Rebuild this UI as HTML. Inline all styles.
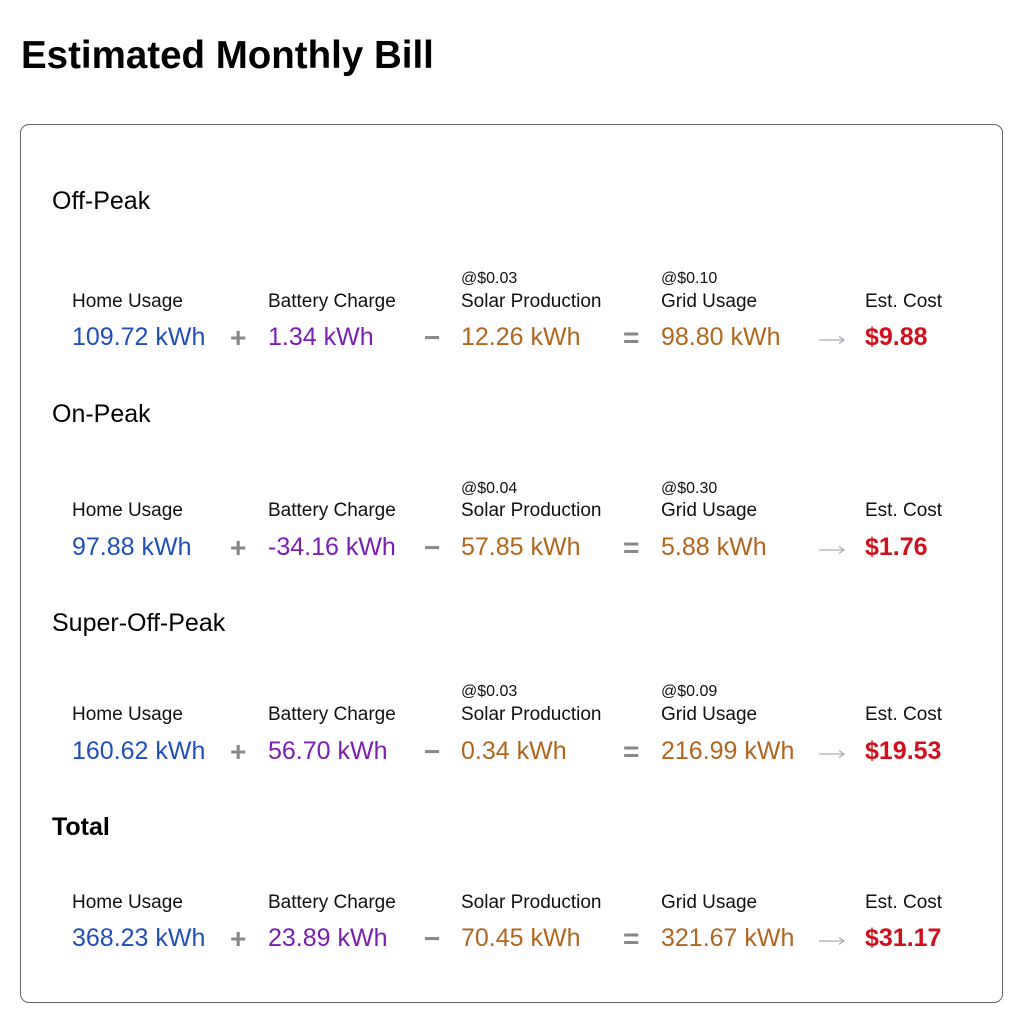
<!DOCTYPE html>
<html><head><meta charset="utf-8"><style>
body{margin:0;width:1024px;height:1024px;background:#fff;font-family:"Liberation Sans",sans-serif;position:relative;overflow:hidden}
div.t{position:absolute;line-height:1;white-space:nowrap}
.title{font-size:38.5px;font-weight:bold;color:#000}
.box{position:absolute;left:20px;top:124px;width:983px;height:879px;border:1px solid #666;border-radius:9px;box-sizing:border-box}
.h{font-size:25px;color:#000}
.lb{font-size:19px;color:#111}
.r{font-size:16px;color:#111}
.v{font-size:25px}
.b{color:#1f4fb8}.p{color:#7a1fb0}.o{color:#b0661c}.c{color:#d0101c;font-weight:bold}
.op{font-size:28px;color:#888;font-weight:bold}
svg.ar{position:absolute;width:28px;height:10px}
</style></head><body>
<div class="t title" style="left:21px;top:37px">Estimated Monthly Bill</div>
<div class="box"></div>

<div class="t h" style="left:52px;top:189px">Off-Peak</div>
<div class="t r" style="left:461px;top:271px">@$0.03</div>
<div class="t r" style="left:661px;top:271px">@$0.10</div>
<div class="t lb" style="left:72px;top:292px">Home Usage</div>
<div class="t lb" style="left:268px;top:292px">Battery Charge</div>
<div class="t lb" style="left:461px;top:292px">Solar Production</div>
<div class="t lb" style="left:661px;top:292px">Grid Usage</div>
<div class="t lb" style="left:865px;top:292px">Est. Cost</div>
<div class="t v b" style="left:72px;top:325px">109.72 kWh</div>
<div class="t op" style="left:230px;top:324px">+</div>
<div class="t v p" style="left:268px;top:325px">1.34 kWh</div>
<div class="t op" style="left:424px;top:324px">−</div>
<div class="t v o" style="left:461px;top:325px">12.26 kWh</div>
<div class="t op" style="left:623px;top:324px">=</div>
<div class="t v o" style="left:661px;top:325px">98.80 kWh</div>
<svg class="ar" style="left:818px;top:335px" viewBox="0 0 28 10"><path d="M1 5H26M21 1.5L26 5L21 8.5" stroke="#aab" stroke-width="1.3" fill="none"/></svg>
<div class="t v c" style="left:865px;top:325px">$9.88</div>

<div class="t h" style="left:52px;top:402px">On-Peak</div>
<div class="t r" style="left:461px;top:481px">@$0.04</div>
<div class="t r" style="left:661px;top:481px">@$0.30</div>
<div class="t lb" style="left:72px;top:501px">Home Usage</div>
<div class="t lb" style="left:268px;top:501px">Battery Charge</div>
<div class="t lb" style="left:461px;top:501px">Solar Production</div>
<div class="t lb" style="left:661px;top:501px">Grid Usage</div>
<div class="t lb" style="left:865px;top:501px">Est. Cost</div>
<div class="t v b" style="left:72px;top:535px">97.88 kWh</div>
<div class="t op" style="left:230px;top:534px">+</div>
<div class="t v p" style="left:268px;top:535px">-34.16 kWh</div>
<div class="t op" style="left:424px;top:534px">−</div>
<div class="t v o" style="left:461px;top:535px">57.85 kWh</div>
<div class="t op" style="left:623px;top:534px">=</div>
<div class="t v o" style="left:661px;top:535px">5.88 kWh</div>
<svg class="ar" style="left:818px;top:545px" viewBox="0 0 28 10"><path d="M1 5H26M21 1.5L26 5L21 8.5" stroke="#aab" stroke-width="1.3" fill="none"/></svg>
<div class="t v c" style="left:865px;top:535px">$1.76</div>

<div class="t h" style="left:52px;top:611px">Super-Off-Peak</div>
<div class="t r" style="left:461px;top:684px">@$0.03</div>
<div class="t r" style="left:661px;top:684px">@$0.09</div>
<div class="t lb" style="left:72px;top:705px">Home Usage</div>
<div class="t lb" style="left:268px;top:705px">Battery Charge</div>
<div class="t lb" style="left:461px;top:705px">Solar Production</div>
<div class="t lb" style="left:661px;top:705px">Grid Usage</div>
<div class="t lb" style="left:865px;top:705px">Est. Cost</div>
<div class="t v b" style="left:72px;top:739px">160.62 kWh</div>
<div class="t op" style="left:230px;top:738px">+</div>
<div class="t v p" style="left:268px;top:739px">56.70 kWh</div>
<div class="t op" style="left:424px;top:738px">−</div>
<div class="t v o" style="left:461px;top:739px">0.34 kWh</div>
<div class="t op" style="left:623px;top:738px">=</div>
<div class="t v o" style="left:661px;top:739px">216.99 kWh</div>
<svg class="ar" style="left:818px;top:749px" viewBox="0 0 28 10"><path d="M1 5H26M21 1.5L26 5L21 8.5" stroke="#aab" stroke-width="1.3" fill="none"/></svg>
<div class="t v c" style="left:865px;top:739px">$19.53</div>

<div class="t h" style="left:52px;top:815px;font-weight:bold">Total</div>
<div class="t lb" style="left:72px;top:893px">Home Usage</div>
<div class="t lb" style="left:268px;top:893px">Battery Charge</div>
<div class="t lb" style="left:461px;top:893px">Solar Production</div>
<div class="t lb" style="left:661px;top:893px">Grid Usage</div>
<div class="t lb" style="left:865px;top:893px">Est. Cost</div>
<div class="t v b" style="left:72px;top:926px">368.23 kWh</div>
<div class="t op" style="left:230px;top:925px">+</div>
<div class="t v p" style="left:268px;top:926px">23.89 kWh</div>
<div class="t op" style="left:424px;top:925px">−</div>
<div class="t v o" style="left:461px;top:926px">70.45 kWh</div>
<div class="t op" style="left:623px;top:925px">=</div>
<div class="t v o" style="left:661px;top:926px">321.67 kWh</div>
<svg class="ar" style="left:818px;top:936px" viewBox="0 0 28 10"><path d="M1 5H26M21 1.5L26 5L21 8.5" stroke="#aab" stroke-width="1.3" fill="none"/></svg>
<div class="t v c" style="left:865px;top:926px">$31.17</div>
</body></html>
